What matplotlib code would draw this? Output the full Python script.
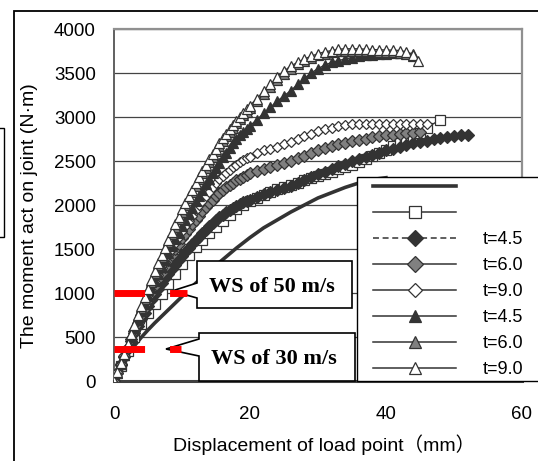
import matplotlib
matplotlib.use("Agg")
import matplotlib.pyplot as plt
from matplotlib.lines import Line2D
from matplotlib.patches import Polygon, Rectangle

plt.rcParams['font.family'] = ['Liberation Sans', 'Noto Sans CJK JP', 'DejaVu Sans']

W, H = 538, 461

# displacement (mm): whole-mm grid, and a finer one for the marker series
disp = [0, 1, 2, 3, 4, 5, 6, 7, 8, 9, 10, 11, 12, 13, 14, 15, 16, 17, 18, 19, 20,
        21, 22, 23, 24, 25, 26, 27, 28, 29, 30, 31, 32, 33, 34, 35, 36, 37, 38, 39, 40,
        41, 42, 43, 44, 45, 46, 47, 48, 49, 50, 51, 52]
disp_fine = [0, 0.5, 1, 1.5, 2, 2.5, 3, 3.5, 4, 4.5, 5, 5.5, 6, 6.5, 7, 7.5, 8, 8.5, 9,
             9.5, 10, 10.5, 11, 11.5, 12, 12.5, 13, 13.5, 14, 14.5, 15, 15.5, 16, 16.5,
             17, 17.5, 18, 18.5, 19, 19.5, 20,
             21, 22, 23, 24, 25, 26, 27, 28, 29, 30, 31, 32, 33, 34, 35, 36, 37, 38, 39,
             40, 41, 42, 43, 44, 45, 46, 47, 48, 49, 50, 51, 52]

# moment (N·m)
m_line = [0, 150, 290, 400, 495, 580, 660, 735, 810, 885, 960, 1035, 1110, 1180, 1250,
          1315, 1380, 1445, 1510, 1570, 1630, 1685, 1740, 1785, 1830, 1875, 1920, 1960,
          2000, 2040, 2080, 2110, 2140, 2170, 2200, 2225, 2250, 2270, 2290, 2300, 2310]
m_square = [0, 170, 340, 500, 650, 770, 880, 990, 1100, 1220, 1330, 1430, 1520, 1600, 1680,
            1750, 1820, 1890, 1950, 2000, 2040, 2075, 2110, 2145, 2180, 2205, 2230, 2255,
            2280, 2305, 2330, 2355, 2380, 2405, 2430, 2460, 2490, 2525, 2560, 2595, 2630,
            2665, 2700, 2740, 2780, 2820, 2880]
square_end = (47.9, 2965)
m_dia45 = [0, 90, 180, 270, 360, 450, 540, 620, 700, 775, 850, 920, 990, 1050, 1110, 1165,
           1220, 1270, 1320, 1370, 1420, 1465, 1510, 1555, 1600, 1640, 1680, 1720, 1760,
           1795, 1830, 1860, 1890, 1915, 1940, 1965, 1990, 2010, 2030, 2045, 2060,
           2090, 2120, 2145, 2170, 2195, 2220, 2250, 2280, 2315, 2350, 2380, 2410, 2440,
           2470, 2495, 2520, 2545, 2570, 2595, 2620, 2640, 2660, 2680, 2700, 2715, 2730,
           2745, 2760, 2770, 2780, 2790, 2800]
m_dia60 = [0, 95, 190, 285, 380, 475, 570, 660, 750, 835, 920, 1000, 1080, 1155, 1230, 1300,
           1370, 1435, 1500, 1560, 1620, 1675, 1730, 1780, 1830, 1880, 1930, 1975, 2020,
           2060, 2100, 2135, 2170, 2200, 2230, 2255, 2280, 2300, 2320, 2340, 2360,
           2385, 2410, 2430, 2450, 2475, 2500, 2530, 2560, 2590, 2620, 2645, 2670, 2690,
           2710, 2725, 2740, 2755, 2770, 2780, 2790, 2800, 2810, 2815, 2820, 2825]
m_dia90 = [0, 98, 195, 293, 390, 488, 585, 678, 770, 860, 950, 1035, 1120, 1200, 1280, 1355,
           1430, 1500, 1570, 1635, 1700, 1760, 1820, 1880, 1940, 1995, 2050, 2100, 2150,
           2200, 2250, 2290, 2330, 2365, 2400, 2430, 2460, 2485, 2510, 2530, 2550,
           2590, 2620, 2640, 2660, 2690, 2720, 2750, 2780, 2810, 2840, 2860, 2880, 2895,
           2910, 2915, 2920, 2920, 2920, 2920, 2920, 2920, 2920, 2920, 2920, 2918, 2915]
m_tri45 = [0, 95, 190, 295, 400, 500, 600, 695, 790, 880, 970, 1055, 1140, 1220, 1300, 1380,
           1460, 1535, 1610, 1685, 1760, 1830, 1900, 1970, 2040, 2105, 2170, 2235, 2300,
           2360, 2420, 2480, 2540, 2595, 2650, 2700, 2750, 2790, 2830, 2865, 2900,
           2970, 3040, 3110, 3180, 3240, 3300, 3370, 3440, 3500, 3550, 3590, 3620, 3640,
           3660, 3675, 3690, 3700, 3710, 3715, 3720, 3725, 3730, 3730, 3720]
m_tri60 = [0, 95, 195, 300, 410, 520, 630, 735, 835, 935, 1030, 1130, 1225, 1315, 1405, 1495,
           1580, 1670, 1755, 1840, 1920, 2000, 2075, 2150, 2220, 2290, 2360, 2425, 2490,
           2550, 2610, 2670, 2730, 2780, 2830, 2880, 2930, 2975, 3020, 3060, 3100,
           3180, 3260, 3340, 3420, 3490, 3550, 3600, 3640, 3670, 3700, 3720, 3735, 3745,
           3750, 3750, 3750, 3750, 3745, 3740, 3740, 3735, 3730, 3720, 3690]
m_tri90 = [0, 100, 200, 310, 420, 530, 640, 745, 850, 950, 1050, 1150, 1250, 1340, 1430, 1515,
           1600, 1690, 1780, 1865, 1950, 2025, 2100, 2175, 2250, 2320, 2390, 2455, 2520,
           2580, 2640, 2700, 2760, 2810, 2860, 2910, 2960, 3005, 3050, 3090, 3130,
           3210, 3290, 3370, 3460, 3520, 3580, 3620, 3660, 3690, 3720, 3740, 3755, 3770,
           3775, 3775, 3775, 3770, 3765, 3765, 3760, 3760, 3755, 3740, 3700]
tri90_end = (44.7, 3640)

labels = ['', '', 't=4.5', 't=6.0', 't=9.0', 't=4.5', 't=6.0', 't=9.0']

# wind-speed reference moments
ws_labels = ['WS of 50 m/s', 'WS of 30 m/s']
ws_moment = [1000, 360]
ws_reach = [10.7, 9.9]

yticks = [0, 500, 1000, 1500, 2000, 2500, 3000, 3500, 4000]
xticks = [0, 20, 40, 60]

dark = '#333333'
grey = '#808080'

fig = plt.figure(figsize=(W / 100, H / 100), dpi=100)
ax = fig.add_axes([114 / W, 1 - 381 / H, (522 - 114) / W, (381 - 29) / H])


def px(x, y):
    return (x / W, 1 - y / H)


styles = [
    dict(marker='None', lw=2.6, ls='-', mfc=dark, ms=6),
    dict(marker='s', mfc='white', ms=6.5, lw=1.0, ls='-'),
    dict(marker='D', mfc=dark, ms=6.2, lw=1.0, ls=(0, (3.9, 2.4))),
    dict(marker='D', mfc=grey, ms=6.2, lw=1.0, ls='-'),
    dict(marker='D', mfc='white', ms=5.4, lw=1.0, ls='-'),
    dict(marker='^', mfc=dark, ms=7.2, lw=1.0, ls='-'),
    dict(marker='^', mfc=grey, ms=7.2, lw=1.0, ls='-'),
    dict(marker='^', mfc='white', ms=7.2, lw=1.0, ls='-'),
]

series = [
    (disp[:len(m_line)], m_line),
    (disp[:len(m_square)] + [square_end[0]], m_square + [square_end[1]]),
    (disp_fine[:len(m_dia45)], m_dia45),
    (disp_fine[:len(m_dia60)], m_dia60),
    (disp_fine[:len(m_dia90)], m_dia90),
    (disp_fine[:len(m_tri45)], m_tri45),
    (disp_fine[:len(m_tri60)], m_tri60),
    (disp_fine[:len(m_tri90)] + [tri90_end[0]], m_tri90 + [tri90_end[1]]),
]

handles = []
for (xs, ys), st in zip(series, styles):
    ax.plot(xs, ys, color=dark, mec=dark, mew=0.9, marker=st['marker'], mfc=st['mfc'],
            ms=st['ms'], lw=st['lw'], ls='-', zorder=3)
    handles.append(Line2D([], [], color=dark, mec=dark, mew=0.9, marker=st['marker'],
                          mfc=st['mfc'], ms=st['ms'] + 2,
                          lw=st['lw'] if st['marker'] == 'None' else 1.1, ls=st['ls']))

ax.set_xlim(0, 60)
ax.set_ylim(0, 4000)
ax.set_xticks(xticks)
ax.set_yticks(yticks)
ax.yaxis.grid(True, color='#444444', lw=0.9)
ax.set_axisbelow(True)
ax.tick_params(axis='x', direction='in', length=4, pad=18, labelsize=13.5, color='#444444')
ax.tick_params(axis='y', length=0, pad=13, labelsize=13.5)
for s in ['top', 'right']:
    ax.spines[s].set_color('#909090')
    ax.spines[s].set_linewidth(1.6)
ax.spines['left'].set_color('#606060')
ax.spines['left'].set_linewidth(1.4)
ax.spines['bottom'].set_color('#404040')
ax.spines['bottom'].set_linewidth(2.2)

# callouts
callouts = [
    dict(box=(197, 261, 352, 308), tip=(172, 291), base=(283, 298)),
    dict(box=(199, 333, 355, 381), tip=(166, 349), base=(339, 356)),
]
for c, lab in zip(callouts, ws_labels):
    x0, y0, x1, y1 = c['box']
    pts = [px(x0, y0), px(x1, y0), px(x1, y1), px(x0, y1),
           px(x0, c['base'][1]), px(*c['tip']), px(x0, c['base'][0])]
    ax.add_patch(Polygon(pts, closed=True, transform=fig.transFigure, fc='white',
                         ec='black', lw=1.2, zorder=5, clip_on=False))
    ax.text(*px((x0 + x1) / 2 - 3, (y0 + y1) / 2 + 2), lab, transform=fig.transFigure,
            ha='center', va='center', family='Liberation Serif', weight='bold',
            fontsize=16, zorder=7)

for m, reach in zip(ws_moment, ws_reach):
    ax.plot([0, reach], [m, m], color='red', lw=5, dashes=(4.4, 3.6), zorder=6,
            clip_on=False)

# axis titles
fig.text(*px(324, 445), 'Displacement of load point（mm）', ha='center', va='center',
         fontsize=14)
fig.text(*px(30, 216), 'The moment act on joint (N·m)', ha='center', va='center',
         rotation=90, fontsize=14)

# legend box (runs past the right edge)
fig.add_artist(Rectangle(px(357, 381), (570 - 357) / W, (381 - 177) / H,
                         transform=fig.transFigure, fc='white', ec='black', lw=1.0, zorder=2))
fig.legend(handles, labels, loc='upper left', bbox_to_anchor=px(373, 179),
           bbox_transform=fig.transFigure, frameon=False, borderpad=0, borderaxespad=0,
           handlelength=4.6, handletextpad=1.5, labelspacing=0.5, fontsize=13,
           numpoints=1)

# outer frame and the edge of the neighbouring box
fig.add_artist(Rectangle(px(14, 500), 1.2, (500 - 11) / H, transform=fig.transFigure,
                         fill=False, ec='black', lw=1.3))
fig.add_artist(Rectangle(px(-20, 237), 24 / W, (237 - 128) / H, transform=fig.transFigure,
                         fill=False, ec='black', lw=1.0))

fig.savefig('out.png', dpi=100)
